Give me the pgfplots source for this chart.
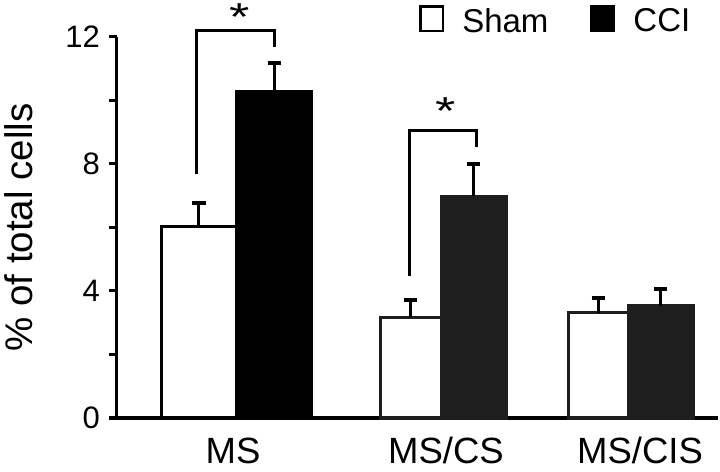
\documentclass[border=0pt]{standalone}
\usepackage{fontspec}
\setmainfont{Liberation Sans}
\usepackage{pgfplots}
\pgfplotsset{compat=1.18}
\definecolor{dk}{RGB}{30,30,30}
\begin{document}
\begin{tikzpicture}
\useasboundingbox (-117bp,-54bp) rectangle (603bp,418bp);
\begin{axis}[
  scale only axis, width=601bp, height=381bp,
  xmin=117, xmax=718, ymin=0, ymax=12,
  axis x line*=bottom, axis y line*=left,
  axis line style={line width=3bp, -},
  ytick={0,4,8,12}, minor ytick={2,6,10},
  tick align=outside, major tick length=8bp, minor tick length=8bp,
  tick style={line width=3bp, black},
  xtick={233,446,640}, xticklabels={MS,MS/CS,MS/CIS},
  xtick style={draw=none},
  xticklabel style={font=\fontsize{36.5bp}{38bp}\selectfont, anchor=base, yshift=-37bp, inner sep=0pt},
  yticklabel style={font=\fontsize{31bp}{34bp}\selectfont, inner sep=0pt, xshift=-9bp},
  /pgf/number format/assume math mode=true,
  ylabel={\% of total cells},
  ylabel style={font=\fontsize{38.5bp}{42bp}\selectfont, at={(axis description cs:-0.1880,0.5)}, anchor=north, inner sep=0pt},
  clip=false,
  legend columns=2,
  legend cell align=left,
  legend style={at={(axis cs:419.25,12.10)}, anchor=south west, draw=none, fill=none, inner sep=0pt, outer sep=0pt,
    nodes={inner sep=0pt, font=\fontsize{33bp}{36bp}\selectfont},
    /tikz/every odd column/.append style={column sep=18bp},
    /tikz/every even column/.append style={column sep=42bp}},
]
\addlegendimage{legend image code/.code={\draw[fill=white,draw=black,line width=2.5bp] (0bp,-10bp) rectangle (22.5bp,14.5bp);}}
\addlegendentry{Sham}
\addlegendimage{legend image code/.code={\draw[fill=black,draw=black,line width=2.5bp] (0bp,-10bp) rectangle (22.5bp,14.5bp);}}
\addlegendentry{CCI}

\pgfplotsset{
  errstyle/.style={error bars/.cd, y dir=plus, y explicit,
    error bar style={line width=3bp, black},
    error mark=-,
    error mark options={rotate=90, line width=3.5bp, mark size=6.5bp, black}}
}
% MS
\addplot[ybar, bar width=75, bar shift=0pt, fill=white, draw=black, line width=3bp, forget plot, errstyle]
  coordinates {(199,6.02) +- (0,0.75)};
\addplot[ybar, bar width=75, bar shift=0pt, fill=black, draw=black, line width=3bp, forget plot, errstyle]
  coordinates {(274,10.27) +- (0,0.91)};
% MS/CS
\addplot[ybar, bar width=61, bar shift=0pt, fill=white, draw=dk, line width=3bp, forget plot, errstyle]
  coordinates {(410.5,3.18) +- (0,0.54)};
\addplot[ybar, bar width=65, bar shift=0pt, fill=dk, draw=dk, line width=3bp, forget plot, errstyle]
  coordinates {(473.5,6.99) +- (0,1.01)};
% MS/CIS
\addplot[ybar, bar width=60, bar shift=0pt, fill=white, draw=dk, line width=3bp, forget plot, errstyle]
  coordinates {(598,3.31) +- (0,0.47)};
\addplot[ybar, bar width=65, bar shift=0pt, fill=dk, draw=dk, line width=3bp, forget plot, errstyle]
  coordinates {(660.5,3.53) +- (0,0.53)};

% significance brackets
\draw[line width=3bp] (axis cs:197,7.69) -- (axis cs:197,12.22) -- (axis cs:274,12.22) -- (axis cs:274,11.69);
\draw[line width=3bp] (axis cs:409,4.47) -- (axis cs:409,9.04) -- (axis cs:476,9.04) -- (axis cs:476,8.54);
\node[anchor=north, inner sep=0pt, font=\fontsize{52bp}{52bp}\selectfont] at (axis cs:239.5,13.06) {\scalebox{1}[0.75]{*}};
\node[anchor=north, inner sep=0pt, font=\fontsize{52bp}{52bp}\selectfont] at (axis cs:445.5,10.08) {\scalebox{1}[0.75]{*}};
\end{axis}
\end{tikzpicture}
\end{document}
